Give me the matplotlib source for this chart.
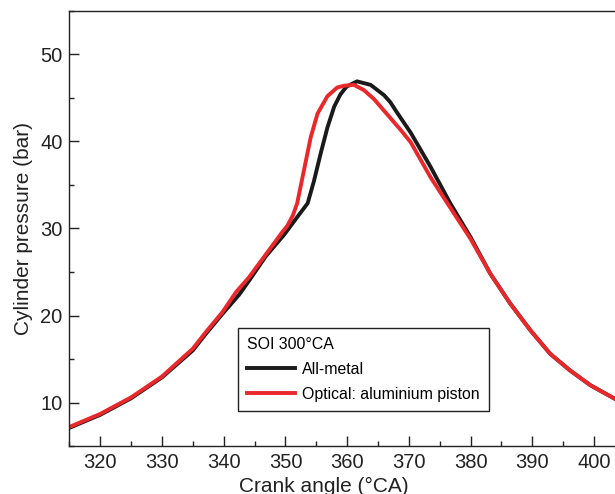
import matplotlib

matplotlib.use("Agg")
import matplotlib.pyplot as plt
from matplotlib.ticker import MultipleLocator

plt.rcParams["font.family"] = ["Liberation Sans", "DejaVu Sans"]

# All-metal engine
metal_ca = [315, 320, 325, 330, 335, 337.1, 339.8, 342.5, 344.1, 346.8,
            349.8, 351.9, 353.6, 354.6, 355.7, 356.8, 357.9, 358.9, 359.9,
            361.6, 363.8, 366.0, 367.0, 368.1, 370.3, 373.5, 376.7, 380.0,
            383.2, 386.4, 389.7, 392.9, 396.1, 399.4, 403.2, 405]
metal_p = [7.1, 8.6, 10.5, 12.9, 16.0, 17.9, 20.2, 22.4, 24.0, 26.8,
           29.3, 31.3, 32.9, 35.4, 38.6, 41.6, 44.0, 45.4, 46.3,
           46.9, 46.5, 45.3, 44.5, 43.3, 41.0, 37.1, 32.9, 29.0,
           24.8, 21.4, 18.3, 15.6, 13.7, 12.0, 10.5, 9.9]

# Optical engine, aluminium piston
optical_ca = [315, 320, 325, 330, 335, 337.1, 339.8, 342.0, 344.1, 346.8,
              349.5, 350.3, 351.2, 351.9, 353.0, 354.1, 355.2, 356.8, 358.4,
              359.5, 361.1, 362.7, 364.3, 366.5, 368.7, 370.3, 373.5, 376.7,
              380.0, 383.2, 386.4, 389.7, 392.9, 396.1, 399.4, 403.2, 405]
optical_p = [7.2, 8.7, 10.6, 13.0, 16.2, 18.1, 20.4, 22.7, 24.4, 27.0,
             29.6, 30.3, 31.5, 32.9, 36.7, 40.5, 43.2, 45.2, 46.2,
             46.4, 46.5, 45.9, 44.9, 43.1, 41.3, 39.9, 35.9, 32.4,
             28.8, 24.8, 21.4, 18.3, 15.6, 13.7, 12.0, 10.5, 9.9]

fig = plt.figure(figsize=(6.15, 4.94), dpi=100)
ax = fig.add_axes([0.113, 0.097, 0.903, 0.881])

ax.plot(metal_ca, metal_p, color="#1a1a1a", lw=2.8, label="All-metal",
        solid_joinstyle="round")
ax.plot(optical_ca, optical_p, color="#e8282b", lw=2.8,
        label="Optical: aluminium piston", solid_joinstyle="round")

ax.set_xlim(315, 405)
ax.set_ylim(5, 55)
ax.xaxis.set_major_locator(MultipleLocator(10))
ax.xaxis.set_minor_locator(MultipleLocator(5))
ax.yaxis.set_major_locator(MultipleLocator(10))
ax.yaxis.set_minor_locator(MultipleLocator(5))
ax.tick_params(which="both", direction="in", width=1.0, colors="#222222",
               labelsize=14.5, pad=5)
ax.tick_params(which="major", length=7)
ax.tick_params(which="minor", length=3.5)
for s in ax.spines.values():
    s.set_linewidth(1.0)
    s.set_color("#222222")

ax.set_xlabel("Crank angle (°CA)", fontsize=15, color="#222222")
ax.set_ylabel("Cylinder pressure (bar)", fontsize=15, color="#222222")
ax.xaxis.set_label_coords(0.458, -0.072)
ax.yaxis.set_label_coords(-0.066, 0.5)

leg = ax.legend(title="SOI 300°CA", loc="lower left",
                bbox_to_anchor=(0.303, 0.08), borderaxespad=0,
                fontsize=11.4, title_fontsize=11.4, fancybox=False,
                edgecolor="#222222", framealpha=1, handlelength=3.0,
                handletextpad=0.45, alignment="left",
                borderpad=0.6, labelspacing=0.62)
leg.get_frame().set_linewidth(1.0)

fig.savefig("out.png", dpi=100)
